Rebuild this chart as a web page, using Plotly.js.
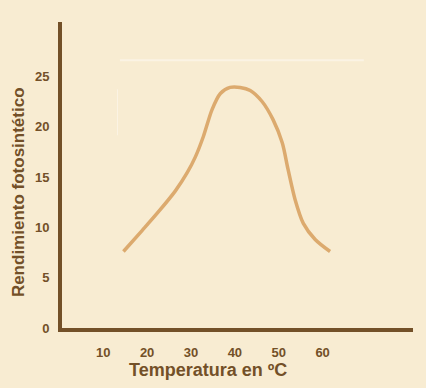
<!DOCTYPE html>
<html>
<head>
<meta charset="utf-8">
<script src="https://cdn.plot.ly/plotly-3.0.1.min.js"></script>
<style>
html,body{margin:0;padding:0;background:#F8ECD2;}
#chart{width:426px;height:388px;}
</style>
</head>
<body>
<div id="chart"></div>
<script>
const temperature = [14.6, 18.9, 22.5, 26.4, 29.1, 31.0, 32.8, 34.8, 36.7, 38.9, 41.2, 43.5, 46.2, 48.7, 50.8, 52.1, 53.7, 55.6, 58.3, 61.7];
const yieldValues = [7.6, 9.7, 11.5, 13.6, 15.4, 17.0, 19.0, 21.7, 23.3, 23.9, 23.9, 23.6, 22.5, 20.7, 18.4, 15.8, 12.8, 10.4, 8.8, 7.6];
const xTicks = [10, 20, 30, 40, 50, 60];
const yTicks = [0, 5, 10, 15, 20, 25];
const xTitle = 'Temperatura en ºC';
const yTitle = 'Rendimiento fotosintético';

const axisColor = '#735028';
const bg = '#F8ECD2';
const fontFam = 'Arial, "Liberation Sans", sans-serif';

const trace = {
  x: temperature, y: yieldValues, type: 'scatter', mode: 'lines',
  line: {color: '#DCAA6E', width: 3.5, shape: 'spline', smoothing: 0.8},
  hoverinfo: 'skip'
};

const layout = {
  width: 426, height: 388,
  paper_bgcolor: bg, plot_bgcolor: bg,
  margin: {l: 62, r: 13, t: 22, b: 60},
  showlegend: false,
  font: {family: fontFam, color: axisColor},
  xaxis: {
    range: [0.6, 80.6], tickvals: xTicks, ticktext: xTicks.map(String),
    showgrid: false, zeroline: false, showline: true, linecolor: axisColor, linewidth: 4,
    ticks: '', ticklabelstandoff: 9,
    tickfont: {family: fontFam, size: 13, color: axisColor, weight: 'bold'}
  },
  yaxis: {
    range: [0, 30.4], tickvals: yTicks, ticktext: yTicks.map(String),
    showgrid: false, zeroline: false, showline: true, linecolor: axisColor, linewidth: 4,
    ticks: '', ticklabelstandoff: 6,
    tickfont: {family: fontFam, size: 13, color: axisColor, weight: 'bold'}
  },
  annotations: [
    {text: xTitle, xref: 'x', yref: 'paper', x: 33.9, y: 0, yshift: -42,
     showarrow: false, xanchor: 'center', yanchor: 'middle',
     font: {family: fontFam, size: 18, color: axisColor, weight: 'bold'}},
    {text: yTitle, xref: 'paper', yref: 'y', x: 0, xshift: -44, y: 13.5,
     showarrow: false, textangle: -90, xanchor: 'center', yanchor: 'middle',
     font: {family: fontFam, size: 17, color: axisColor, weight: 'bold'}}
  ],
  shapes: [
    {type: 'line', xref: 'paper', yref: 'paper', x0: 0.165, x1: 0.86, y0: 0.875, y1: 0.875,
     line: {color: '#FBF3E4', width: 2}},
    {type: 'line', xref: 'paper', yref: 'paper', x0: 0.158, x1: 0.158, y0: 0.63, y1: 0.78,
     line: {color: '#FBF3E4', width: 1}}
  ]
};

Plotly.newPlot('chart', [trace], layout, {displayModeBar: false, staticPlot: true});
</script>
</body>
</html>
